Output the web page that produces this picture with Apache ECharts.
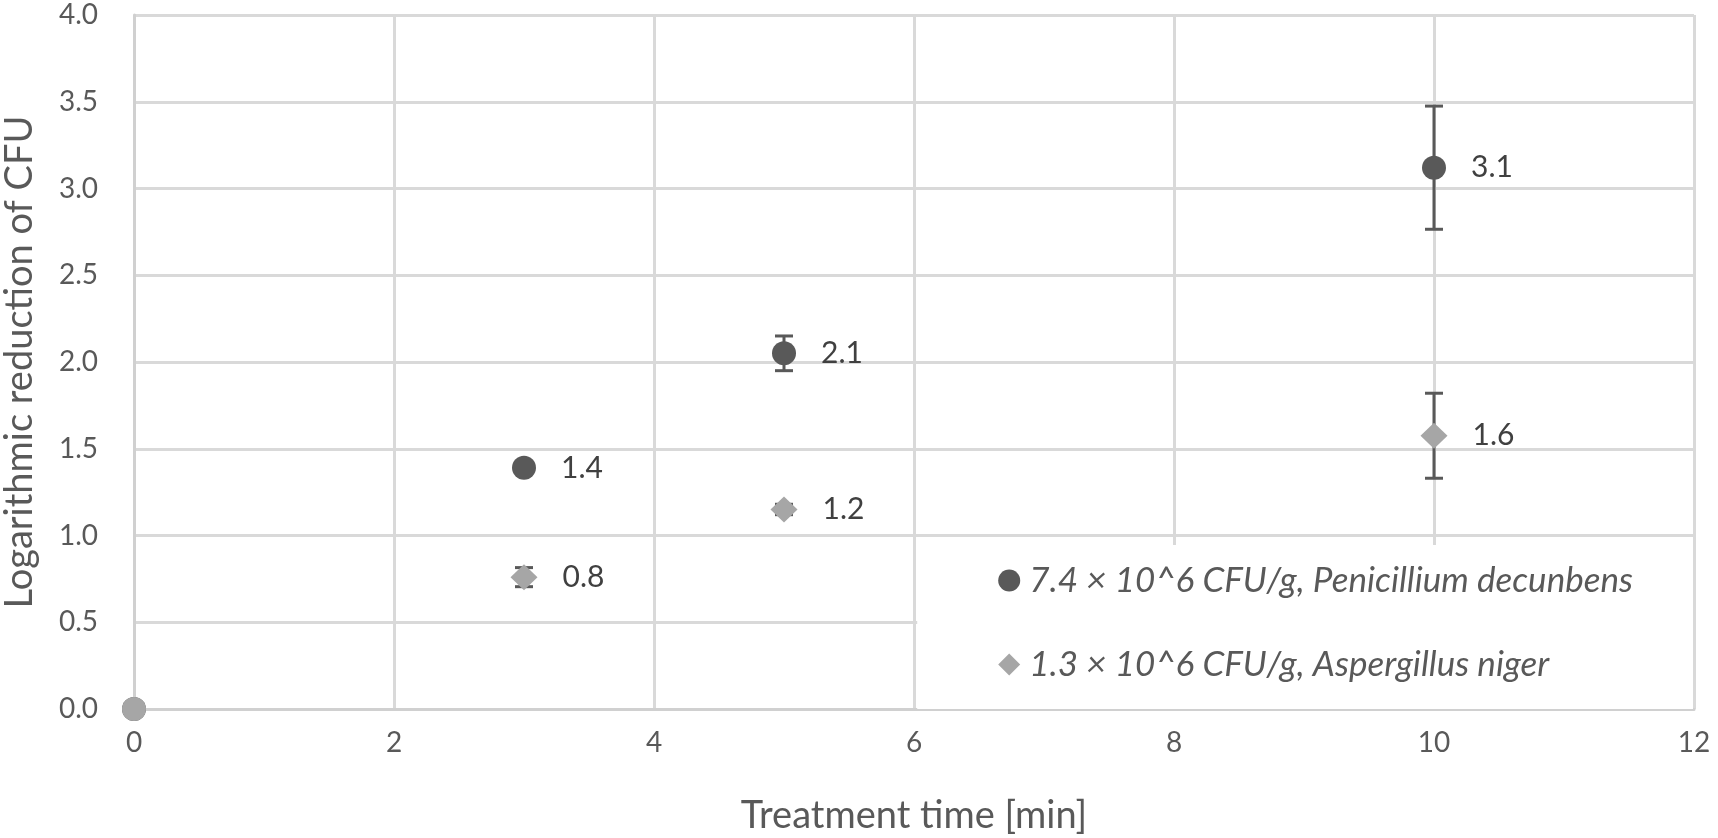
<!DOCTYPE html>
<html>
<head>
<meta charset="utf-8">
<script src="https://cdn.jsdelivr.net/npm/echarts@6/dist/echarts.min.js"></script>
<style>
    html, body { margin: 0; padding: 0; background: #fff; }
    #chart { width: 1718px; height: 838px; }
</style>
</head>
<body>
<div id="chart"></div>
<script>
// data
const times = [0, 3, 5, 10];
const penicillium = [0, 1.39, 2.05, 3.12];
const penicilliumErr = [0, 0.03, 0.1, 0.355];
const aspergillus = [0, 0.76, 1.15, 1.575];
const aspergillusErr = [0, 0.055, 0.03, 0.245];
const seriesNames = [
    '7.4 × 10^6 CFU/g, Penicillium decunbens',
    '1.3 × 10^6 CFU/g, Aspergillus niger'
];
const xTicks = [0, 2, 4, 6, 8, 10, 12];
const yTicks = [0, 0.5, 1, 1.5, 2, 2.5, 3, 3.5, 4];

const FONT = 'Lato';
const DARK = '#595959';
const LIGHT = '#a6a6a6';

const toPairs = vals => times.map((t, i) => [t, vals[i]]);

const errorData = (vals, errs) => times
    .map((t, i) => [t, vals[i] - errs[i], vals[i] + errs[i]])
    .filter((d, i) => errs[i] > 0);

const roundLabel = p => {
    const v = p.value[1];
    if (v === 0) return '';
    return (Math.round(v * 10 + 1e-9) / 10).toFixed(1);
};

const renderError = (params, api) => {
    const x = api.value(0);
    const top = api.coord([x, api.value(2)]);
    const bot = api.coord([x, api.value(1)]);
    const hw = 9;
    const style = { stroke: DARK, lineWidth: 3 };
    return {
        type: 'group',
        children: [
            { type: 'line', shape: { x1: top[0], y1: top[1], x2: bot[0], y2: bot[1] }, style },
            { type: 'line', shape: { x1: top[0] - hw, y1: top[1], x2: top[0] + hw, y2: top[1] }, style },
            { type: 'line', shape: { x1: bot[0] - hw, y1: bot[1], x2: bot[0] + hw, y2: bot[1] }, style }
        ]
    };
};

const labelStyle = {
    show: true,
    position: 'right',
    distance: 25,
    formatter: roundLabel,
    color: '#404040',
    fontFamily: FONT,
    fontSize: 30
};

const chart = echarts.init(document.getElementById('chart'));

chart.setOption({
    animation: false,
    textStyle: { fontFamily: FONT },
    grid: { left: 134, right: 24, top: 15, bottom: 129, containLabel: false, outerBoundsMode: 'none' },
    legend: {
        data: seriesNames,
        orient: 'vertical',
        right: 25,
        bottom: 129,
        backgroundColor: '#fff',
        padding: [18, 60, 27, 81],
        itemGap: 49,
        itemWidth: 22,
        itemHeight: 22,
        textStyle: { fontFamily: FONT, fontStyle: 'italic', fontSize: 35, color: DARK, padding: [0, 0, 0, 4] }
    },
    xAxis: {
        type: 'value',
        min: xTicks[0],
        max: xTicks[xTicks.length - 1],
        interval: 2,
        name: 'Treatment time [min]',
        nameLocation: 'middle',
        nameGap: 88,
        nameTextStyle: { fontFamily: FONT, fontSize: 38, color: DARK },
        axisLine: { lineStyle: { color: '#d0d0d0', width: 3 } },
        axisTick: { show: false },
        axisLabel: { fontFamily: FONT, fontSize: 28, color: DARK, margin: 20 },
        splitLine: { lineStyle: { color: '#d9d9d9', width: 3 } }
    },
    yAxis: {
        type: 'value',
        min: yTicks[0],
        max: yTicks[yTicks.length - 1],
        interval: 0.5,
        name: 'Logarithmic reduction of CFU',
        nameLocation: 'middle',
        nameGap: 95,
        nameTextStyle: { fontFamily: FONT, fontSize: 38, color: DARK },
        axisLine: { show: true, lineStyle: { color: '#d0d0d0', width: 3 } },
        axisTick: { show: false },
        axisLabel: { fontFamily: FONT, fontSize: 28, color: DARK, margin: 36, formatter: v => v.toFixed(1) },
        splitLine: { lineStyle: { color: '#d9d9d9', width: 3 } }
    },
    series: [
        {
            type: 'custom',
            renderItem: renderError,
            data: errorData(penicillium, penicilliumErr),
            z: 1,
            silent: true
        },
        {
            type: 'custom',
            renderItem: renderError,
            data: errorData(aspergillus, aspergillusErr),
            z: 1,
            silent: true
        },
        {
            name: seriesNames[0],
            type: 'scatter',
            symbol: 'circle',
            symbolSize: 24,
            itemStyle: { color: DARK, opacity: 1 },
            label: labelStyle,
            data: toPairs(penicillium),
            z: 3
        },
        {
            name: seriesNames[1],
            type: 'scatter',
            symbol: 'diamond',
            symbolSize: [27, 26],
            itemStyle: { color: LIGHT, opacity: 1 },
            label: labelStyle,
            data: toPairs(aspergillus).map((d, i) =>
                d[1] === 0 ? { value: d, symbol: 'circle', symbolSize: 24 } : d),
            z: 4
        }
    ]
});
</script>
</body>
</html>
